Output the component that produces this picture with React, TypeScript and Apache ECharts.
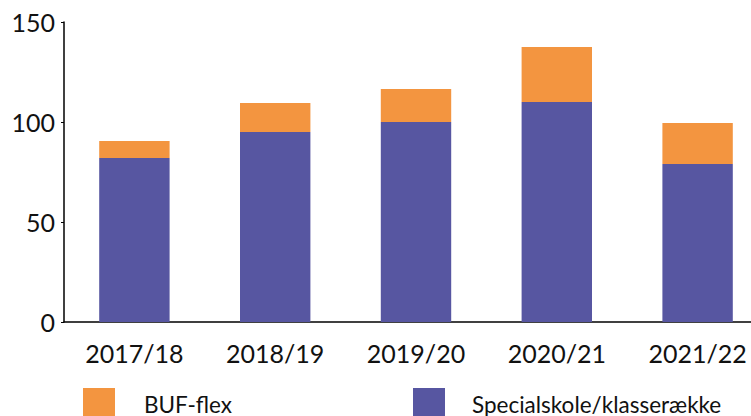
import React, { useEffect, useRef } from "react";
import * as echarts from "echarts";

const categories = ["2017/18", "2018/19", "2019/20", "2020/21", "2021/22"];
const specialskole = [82, 95, 100, 110, 79];
const bufFlex = [8.5, 14.5, 16.5, 27.5, 20.5];
const yTicks = { min: 0, max: 150, interval: 50 };

const PURPLE = "#5756A1";
const ORANGE = "#F39540";
const FONT = "Lato";

export default function App() {
  const ref = useRef<HTMLDivElement>(null);
  useEffect(() => {
    document.body.style.margin = "0";
    const chart = echarts.init(ref.current!, undefined, { renderer: "svg" });
    chart.setOption({
      animation: false,
      textStyle: { fontFamily: FONT },
      grid: { left: 64, right: 0, top: 22, bottom: 94 },
      legend: [
        {
          data: ["BUF-flex"],
          left: 78,
          top: 383,
          itemWidth: 32,
          itemHeight: 32,
          icon: "rect",
          textStyle: { fontSize: 22.5, color: "#111", fontFamily: FONT, padding: [0, 0, 6, 24] },
        },
        {
          data: ["Specialskole/klasserække"],
          left: 408,
          top: 383,
          itemWidth: 32,
          itemHeight: 32,
          icon: "rect",
          textStyle: { fontSize: 22.5, color: "#111", fontFamily: FONT, padding: [0, 0, 6, 22] },
        },
      ],
      xAxis: {
        type: "category",
        data: categories,
        axisLine: { lineStyle: { color: "#000", width: 1.5 } },
        axisTick: { show: false },
        axisLabel: { fontSize: 25, color: "#111", margin: 18, fontFamily: FONT },
      },
      yAxis: {
        type: "value",
        min: yTicks.min,
        max: yTicks.max,
        interval: yTicks.interval,
        splitLine: { show: false },
        axisLine: { show: true, lineStyle: { color: "#000", width: 1.5 } },
        axisTick: { show: true, length: 3, lineStyle: { color: "#000" } },
        axisLabel: { fontSize: 25, color: "#111", margin: 9, fontFamily: FONT },
      },
      series: [
        {
          name: "Specialskole/klasserække",
          type: "bar",
          stack: "total",
          data: specialskole,
          barWidth: "50%",
          itemStyle: { color: PURPLE },
        },
        {
          name: "BUF-flex",
          type: "bar",
          stack: "total",
          data: bufFlex,
          barWidth: "50%",
          itemStyle: { color: ORANGE },
        },
      ],
    });
    return () => chart.dispose();
  }, []);
  return (
    <div style={{ width: 751, height: 416, overflow: "hidden" }}>
      <div ref={ref} style={{ width: 768, height: 416 }} />
    </div>
  );
}
